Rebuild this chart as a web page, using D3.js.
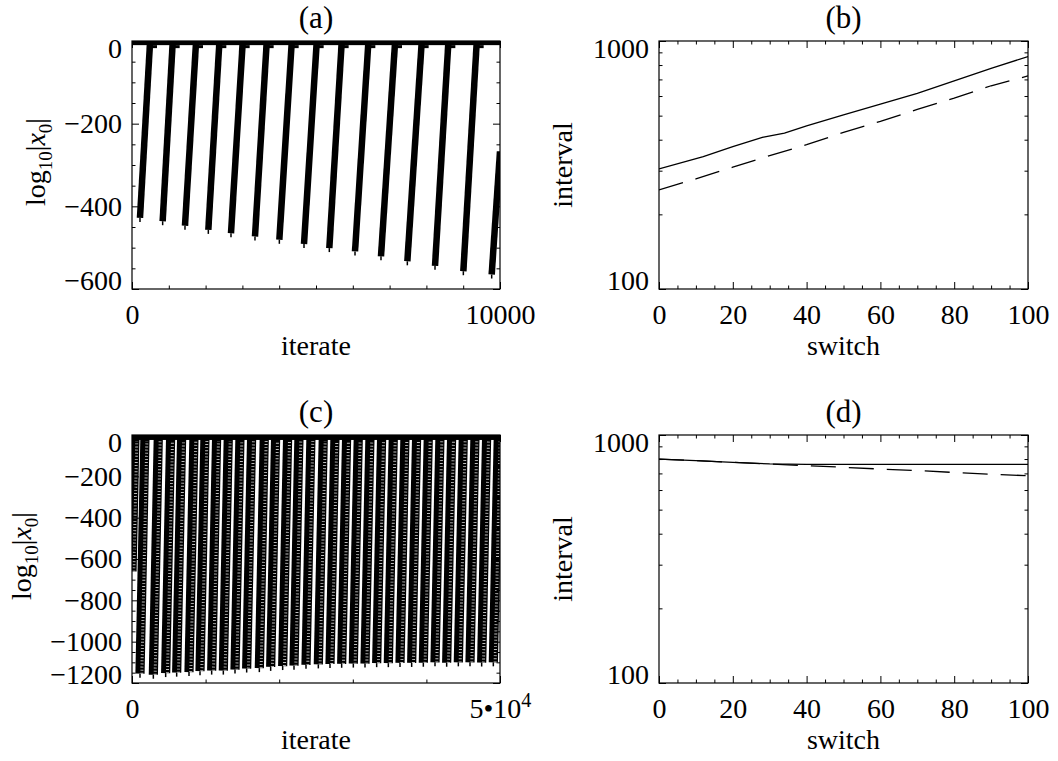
<!DOCTYPE html>
<html><head><meta charset="utf-8">
<script src="https://cdn.jsdelivr.net/npm/d3@7"></script>
<style>
body{margin:0;background:#fff}
svg text{font-family:"Liberation Serif","Times New Roman",Times,serif;fill:#000}
</style>
</head><body>
<svg id="chart" width="1058" height="761"></svg>
<script>
// ---------------- DATA ----------------
// Panel (a): iterate vs log10|x0|, ramps (bottom -> top)
const aRampStartIter = [217, 833, 1440, 2074, 2690, 3342, 4004, 4674, 5362, 6060, 6766, 7482, 8234, 9004, 9774];
const aRampStartVal  = [-428, -436, -447, -457, -465, -473, -481, -491, -501, -509, -521, -533, -544, -557, -565];
const aRampEndIter   = [489, 1105, 1739, 2373, 3007, 3659, 4339, 5018, 5697, 6422, 7147, 7871, 8596, 9366, 10000];
const aRampEndVal    = [-5, -5, -5, -5, -5, -5, -5, -5, -5, -5, -5, -5, -5, -5, -267];
const aPlateau       = [0, -10];
const aXMajor = [0, 10000];
const aXMinor = [1000, 2000, 3000, 4000, 5000, 6000, 7000, 8000, 9000];
const aYMajor = [0, -200, -400, -600];
const aYMinor = [-50, -100, -150, -250, -300, -350, -450, -500, -550];

// Panel (c): iterate vs log10|x0|
const cRampStartIter = [0, 1087, 2899, 4574, 6069, 7745, 9239, 10824, 12409, 13995, 15580, 17301, 18841, 20471, 22011, 23641, 25317, 26902, 28487, 30072, 31658, 33243, 34828, 36413, 37998, 39583, 41168, 42754, 44339, 45924, 47509, 49094];
const cRampStartVal  = [-660, -1155, -1160, -1152, -1150, -1147, -1143, -1140, -1140, -1135, -1130, -1128, -1122, -1118, -1116, -1112, -1110, -1108, -1107, -1106, -1106, -1104, -1104, -1103, -1103, -1102, -1100, -1102, -1100, -1100, -1101, -1100];
const cRampEndIter   = [400, 1767, 3579, 5254, 6749, 8425, 9919, 11504, 13089, 14675, 16260, 17981, 19521, 21151, 22691, 24321, 25997, 27582, 29167, 30752, 32338, 33923, 35508, 37093, 38678, 40263, 41848, 43434, 45019, 46604, 48189, 49774];
const cPlateau       = [0, -24];
const cXMajor = [0, 50000];
const cXMinor = [10000, 20000, 30000, 40000];
const cYMajor = [0, -200, -400, -600, -800, -1000, -1200];
const cYMinor = [-50, -100, -150, -250, -300, -350, -450, -500, -550, -650, -700, -750, -850, -900, -950, -1050, -1100, -1150];

// Panel (b): switch vs interval (log)
const bSolidSwitch  = [0, 12, 20, 28, 34, 40, 50, 60, 70, 80, 90, 100];
const bSolidVal     = [305, 342, 375, 409, 425, 455, 504, 556, 615, 690, 776, 865];
const bDashSwitch   = [0, 10, 20, 30, 40, 50, 60, 70, 80, 90, 100];
const bDashVal      = [251, 278, 310, 345, 382, 428, 474, 530, 588, 660, 723];

// Panel (d)
const dSolidSwitch  = [0, 10, 20, 30, 40, 50, 60, 70, 80, 90, 100];
const dSolidVal     = [800, 788, 776, 765, 761, 761, 761, 761, 761, 761, 761];
const dDashSwitch   = [0, 10, 20, 30, 40, 50, 60, 70, 80, 90, 100];
const dDashVal      = [800, 788, 776, 764, 752, 741, 729, 719, 706, 695, 685];

const sXMajor = [0, 20, 40, 60, 80, 100];
const sXMinor = [5, 10, 15, 25, 30, 35, 45, 50, 55, 65, 70, 75, 85, 90, 95];
const lYMajor = [100, 1000];
const lYMinor = [200, 300, 400, 500, 600, 700, 800, 900];

const titles = ["(a)", "(b)", "(c)", "(d)"];

// ---------------- LAYOUT ----------------
const FS = 28, TFS = 31;
const svg = d3.select("#chart");
const P = {
  a: {left: 132, top: 41, width: 368, height: 248},
  b: {left: 659, top: 41, width: 369, height: 248},
  c: {left: 132, top: 435, width: 368, height: 248},
  d: {left: 659, top: 435, width: 369, height: 248}
};
const MAJ = 7, MIN = 3.5;

function styleAxis(sel) {
  sel.attr("font-size", FS).attr("font-family", null);
  sel.select(".domain").remove();
  sel.selectAll("line").attr("stroke", "#000").attr("stroke-width", 1);
}

function drawAxes(g, p, xs, ys, cfg) {
  g.append("g").attr("transform", `translate(0,${p.height})`)
    .call(d3.axisBottom(xs).tickValues(cfg.xMajor).tickFormat(cfg.xFormat).tickSizeInner(-MAJ).tickSizeOuter(0).tickPadding(15))
    .call(styleAxis).attr("class", "xlab");
  g.append("g").attr("transform", `translate(0,${p.height})`)
    .call(d3.axisBottom(xs).tickValues(cfg.xMinor).tickFormat("").tickSizeInner(-MIN).tickSizeOuter(0))
    .call(styleAxis);
  g.append("g").call(d3.axisTop(xs).tickValues(cfg.xMajor).tickFormat("").tickSizeInner(-MAJ).tickSizeOuter(0)).call(styleAxis);
  g.append("g").call(d3.axisTop(xs).tickValues(cfg.xMinor).tickFormat("").tickSizeInner(-MIN).tickSizeOuter(0)).call(styleAxis);
  const yl = g.append("g")
    .call(d3.axisLeft(ys).tickValues(cfg.yMajor).tickFormat(cfg.yFormat).tickSizeInner(-MAJ).tickSizeOuter(0).tickPadding(10))
    .call(styleAxis);
  g.append("g").call(d3.axisLeft(ys).tickValues(cfg.yMinor).tickFormat("").tickSizeInner(-MIN).tickSizeOuter(0)).call(styleAxis);
  g.append("g").attr("transform", `translate(${p.width},0)`)
    .call(d3.axisRight(ys).tickValues(cfg.yMajor).tickFormat("").tickSizeInner(-MAJ).tickSizeOuter(0)).call(styleAxis);
  g.append("g").attr("transform", `translate(${p.width},0)`)
    .call(d3.axisRight(ys).tickValues(cfg.yMinor).tickFormat("").tickSizeInner(-MIN).tickSizeOuter(0)).call(styleAxis);
  yl.selectAll(".tick text").each(function(d) {
    const yy = ys(d);
    if (Math.abs(yy) < 1) d3.select(this).attr("y", 8);
    else if (Math.abs(yy - p.height) < 1) d3.select(this).attr("y", -8);
  });
  g.append("rect").attr("width", p.width).attr("height", p.height)
    .attr("fill", "none").attr("stroke", "#000").attr("stroke-width", 1.2);
}

function panelTitle(p, t) {
  svg.append("text").attr("x", p.left + p.width / 2).attr("y", p.top - 13)
    .attr("text-anchor", "middle").attr("font-size", TFS).text(t);
}

function xTitle(p, t) {
  svg.append("text").attr("x", p.left + p.width / 2).attr("y", p.top + p.height + 66)
    .attr("text-anchor", "middle").attr("font-size", FS).text(t);
}

function yTitleLog(p, xpos, fs) {
  const t = svg.append("text")
    .attr("transform", `translate(${xpos},${p.top + p.height / 2 - 3}) rotate(-90)`)
    .attr("text-anchor", "middle").attr("font-size", fs);
  t.append("tspan").text("log");
  t.append("tspan").attr("font-size", fs * 0.68).attr("dy", fs * 0.25).text("10");
  t.append("tspan").attr("dy", -fs * 0.25).text("|");
  t.append("tspan").attr("font-style", "italic").text("x");
  t.append("tspan").attr("font-size", fs * 0.68).attr("dy", fs * 0.25).text("0");
  t.append("tspan").attr("dy", -fs * 0.25).text("|");
}

function yTitlePlain(p, xpos, s) {
  svg.append("text")
    .attr("transform", `translate(${xpos},${p.top + p.height / 2}) rotate(-90)`)
    .attr("text-anchor", "middle").attr("font-size", FS).text(s);
}

let clipId = 0;
function clipFor(g, p) {
  const id = "clip" + (clipId++);
  svg.append("clipPath").attr("id", id).append("rect").attr("width", p.width).attr("height", p.height)
    .attr("x", p.left).attr("y", p.top);
  return g.append("g").attr("clip-path", `url(#${id})`).attr("transform", `translate(${-p.left},${-p.top})`)
          .append("g").attr("transform", `translate(${p.left},${p.top})`);
}

// ---------------- PANEL (a) ----------------
{
  const p = P.a;
  const g = svg.append("g").attr("transform", `translate(${p.left},${p.top})`);
  const x = d3.scaleLinear().domain([0, 10000]).range([0, p.width]);
  const y = d3.scaleLinear().domain([-600, 0]).range([p.height, 0]);
  const inner = clipFor(g, p);
  inner.append("rect").attr("x", x(0)).attr("width", x(10000) - x(0))
    .attr("y", y(aPlateau[0])).attr("height", y(aPlateau[1]) - y(aPlateau[0])).attr("fill", "#000");
  const ramps = aRampStartIter.map((s, i) => ({s, sv: aRampStartVal[i], e: aRampEndIter[i], ev: aRampEndVal[i]}));
  inner.selectAll("line.ramp").data(ramps).join("line").attr("class", "ramp")
    .attr("x1", d => x(d.s)).attr("y1", d => y(d.sv)).attr("x2", d => x(d.e)).attr("y2", d => y(d.ev))
    .attr("stroke", "#000").attr("stroke-width", 6.5);
  inner.selectAll("line.foot").data(ramps).join("line").attr("class", "foot")
    .attr("x1", d => x(d.s)).attr("y1", d => y(d.sv)).attr("x2", d => x(d.s)).attr("y2", d => y(d.sv) + 4)
    .attr("stroke", "#000").attr("stroke-width", 1.5);
  inner.selectAll("line.notch").data(ramps.slice(0, -1)).join("line").attr("class", "notch")
    .attr("x1", d => x(d.e) + 4).attr("y1", y(aPlateau[1])).attr("x2", d => x(d.e) + 4).attr("y2", y(aPlateau[1]) + 3)
    .attr("stroke", "#000").attr("stroke-width", 6);
  drawAxes(g, p, x, y, {xMajor: aXMajor, xMinor: aXMinor, xFormat: d => d3.format("d")(d),
    yMajor: aYMajor, yMinor: aYMinor, yFormat: d => d === 0 ? "0" : "\u2212" + Math.abs(d)});
  panelTitle(p, titles[0]);
  xTitle(p, "iterate");
  yTitleLog(p, 45, FS);
}

// ---------------- PANEL (c) ----------------
{
  const p = P.c;
  const g = svg.append("g").attr("transform", `translate(${p.left},${p.top})`);
  const x = d3.scaleLinear().domain([0, 50000]).range([0, p.width]);
  const y = d3.scaleLinear().domain([-1200, 0]).range([p.height, 0]);
  const inner = clipFor(g, p);
  inner.append("rect").attr("x", x(0)).attr("width", x(50000) - x(0))
    .attr("y", y(cPlateau[0])).attr("height", y(cPlateau[1]) - y(cPlateau[0])).attr("fill", "#000");
  const ramps = cRampStartIter.map((s, i) => ({s, sv: cRampStartVal[i], e: cRampEndIter[i], ev: 0}));
  inner.selectAll("line.ramp").data(ramps).join("line").attr("class", "ramp")
    .attr("x1", d => x(d.s)).attr("y1", d => y(d.sv)).attr("x2", d => x(d.e)).attr("y2", d => y(d.ev))
    .attr("stroke", "#000").attr("stroke-width", 9.2);
  inner.selectAll("line.tex").data(ramps).join("line").attr("class", "tex")
    .attr("x1", d => x(d.s) + 1.8).attr("y1", d => y(d.sv)).attr("x2", d => x(d.e) + 1.8).attr("y2", d => y(d.ev) + 6)
    .attr("stroke", "#fff").attr("stroke-opacity", 0.75).attr("stroke-width", 3)
    .attr("stroke-dasharray", "0.9,2.2");
  inner.selectAll("line.foot").data(ramps.slice(1)).join("line").attr("class", "foot")
    .attr("x1", d => x(d.s)).attr("y1", d => y(d.sv)).attr("x2", d => x(d.s)).attr("y2", d => y(d.sv) + 4)
    .attr("stroke", "#000").attr("stroke-width", 1.5);
  drawAxes(g, p, x, y, {xMajor: cXMajor, xMinor: cXMinor, xFormat: d => d === 0 ? "0" : "5\u202210",
    yMajor: cYMajor, yMinor: cYMinor, yFormat: d => d === 0 ? "0" : "\u2212" + Math.abs(d)});
  g.select(".xlab").selectAll(".tick text").filter(d => d === 50000)
    .append("tspan").attr("font-size", FS * 0.72).attr("dy", -11).text("4");
  panelTitle(p, titles[2]);
  xTitle(p, "iterate");
  yTitleLog(p, 31, FS);
}

// ---------------- PANELS (b), (d) ----------------
function logPanel(p, solidX, solidY, dashX, dashY, title) {
  const g = svg.append("g").attr("transform", `translate(${p.left},${p.top})`);
  const x = d3.scaleLinear().domain([0, 100]).range([0, p.width]);
  const y = d3.scaleLog().domain([100, 1000]).range([p.height, 0]);
  const inner = clipFor(g, p);
  const line = d3.line().x(d => x(d[0])).y(d => y(d[1]));
  inner.append("path").attr("d", line(solidX.map((v, i) => [v, solidY[i]])))
    .attr("fill", "none").attr("stroke", "#000").attr("stroke-width", 1.3);
  inner.append("path").attr("d", line(dashX.map((v, i) => [v, dashY[i]])))
    .attr("fill", "none").attr("stroke", "#000").attr("stroke-width", 1.3).attr("stroke-dasharray", "25,13");
  drawAxes(g, p, x, y, {xMajor: sXMajor, xMinor: sXMinor, xFormat: d => String(d),
    yMajor: lYMajor, yMinor: lYMinor, yFormat: d => String(d)});
  panelTitle(p, title);
  xTitle(p, "switch");
  yTitlePlain(p, 572, "interval");
}
logPanel(P.b, bSolidSwitch, bSolidVal, bDashSwitch, bDashVal, titles[1]);
logPanel(P.d, dSolidSwitch, dSolidVal, dDashSwitch, dDashVal, titles[3]);
</script>
</body></html>
